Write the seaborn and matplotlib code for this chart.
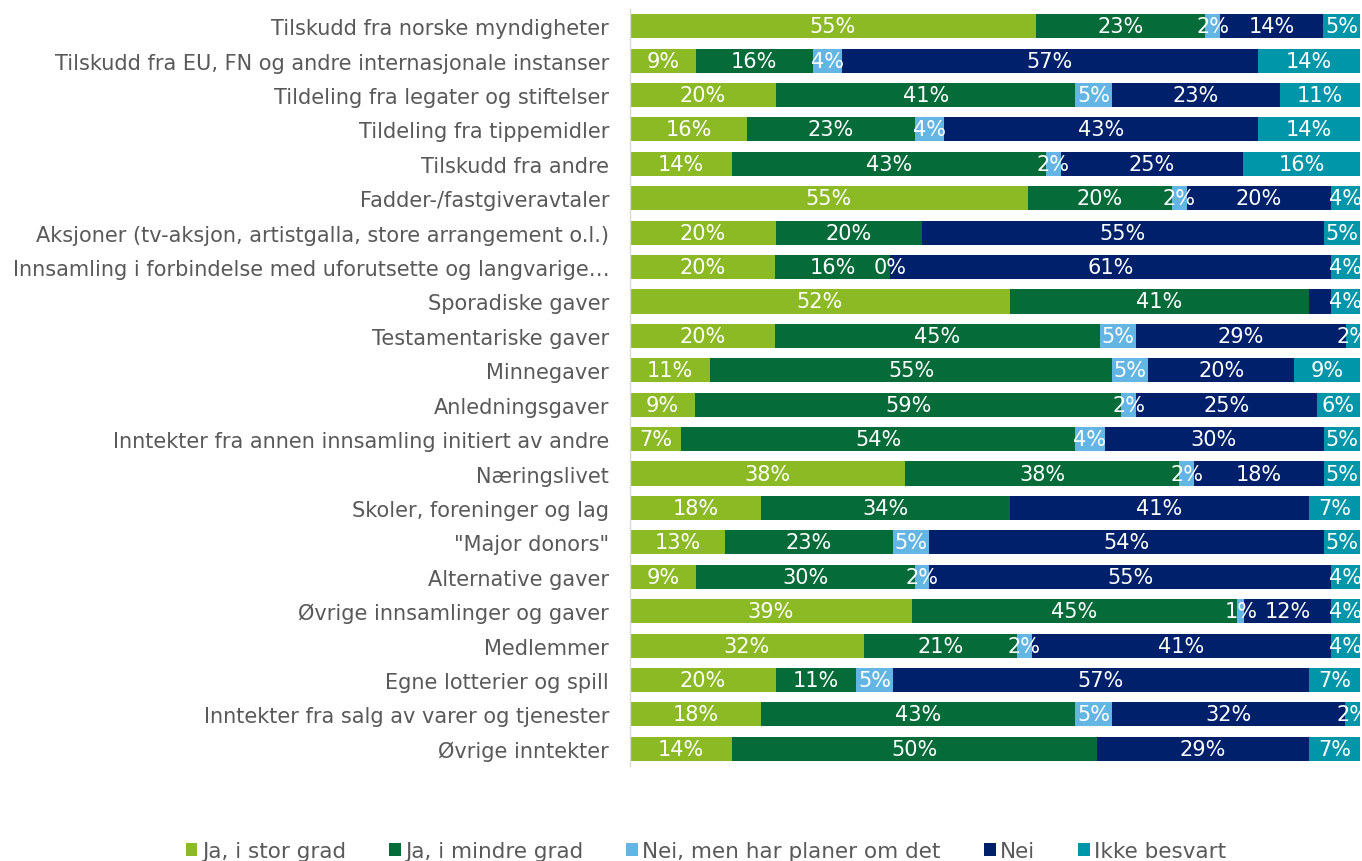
import numpy as np
import pandas as pd
import matplotlib
matplotlib.use("Agg")
import matplotlib.pyplot as plt
from matplotlib.patches import Patch
import seaborn as sns

categories = [
    "Tilskudd fra norske myndigheter",
    "Tilskudd fra EU, FN og andre internasjonale instanser",
    "Tildeling fra legater og stiftelser",
    "Tildeling fra tippemidler",
    "Tilskudd fra andre",
    "Fadder-/fastgiveravtaler",
    "Aksjoner (tv-aksjon, artistgalla, store arrangement o.l.)",
    "Innsamling i forbindelse med uforutsette og langvarige…",
    "Sporadiske gaver",
    "Testamentariske gaver",
    "Minnegaver",
    "Anledningsgaver",
    "Inntekter fra annen innsamling initiert av andre",
    "Næringslivet",
    "Skoler, foreninger og lag",
    "\"Major donors\"",
    "Alternative gaver",
    "Øvrige innsamlinger og gaver",
    "Medlemmer",
    "Egne lotterier og spill",
    "Inntekter fra salg av varer og tjenester",
    "Øvrige inntekter",
]

series_names = ["Ja, i stor grad", "Ja, i mindre grad", "Nei, men har planer om det",
                "Nei", "Ikke besvart"]

nan = np.nan
ja_stor = [55, 9, 20, 16, 14, 55, 20, 20, 52, 20, 11, 9, 7, 38, 18, 13, 9, 39, 32, 20, 18, 14]
ja_mindre = [23, 16, 41, 23, 43, 20, 20, 16, 41, 45, 55, 59, 54, 38, 34, 23, 30, 45, 21, 11, 43, 50]
nei_planer = [2, 4, 5, 4, 2, 2, nan, 0, nan, 5, 5, 2, 4, 2, nan, 5, 2, 1, 2, 5, 5, nan]
nei = [14, 57, 23, 43, 25, 20, 55, 61, 3, 29, 20, 25, 30, 18, 41, 54, 55, 12, 41, 57, 32, 29]
ikke_besvart = [5, 14, 11, 14, 16, 4, 5, 4, 4, 2, 9, 6, 5, 5, 7, 5, 4, 4, 4, 7, 2, 7]

# segments whose value label is left off the bar (category index, series index)
unlabelled = {(8, 3)}

colors = ["#8BBA25", "#056B39", "#63B6E4", "#00206B", "#0096A9"]
label_color = "#595959"

df = pd.DataFrame(
    {name: vals for name, vals in zip(series_names,
                                      [ja_stor, ja_mindre, nei_planer, nei, ikke_besvart])},
    index=categories,
)
values = df.fillna(0.0)
shares = values.div(values.sum(axis=1), axis=0)
cum = shares.cumsum(axis=1)

sns.set_theme(style="white")
plt.rcParams["font.family"] = ["DejaVu Sans"]

fig = plt.figure(figsize=(13.62, 8.62), dpi=100)
ax = fig.add_axes([630 / 1362, 95 / 862, 730 / 1362, 757 / 862])

# stacked bars: draw cumulative totals from the outermost segment inwards
for j in range(len(series_names) - 1, -1, -1):
    plot_df = pd.DataFrame({"x": cum.iloc[:, j].values, "cat": categories})
    sns.barplot(data=plot_df, x="x", y="cat", orient="h", color=colors[j],
                width=0.7, saturation=1, ax=ax, order=categories,
                linewidth=0)

for i, cat in enumerate(categories):
    for j, name in enumerate(series_names):
        v = df.loc[cat, name]
        if pd.isna(v) or (i, j) in unlabelled:
            continue
        left = cum.iloc[i, j] - shares.iloc[i, j]
        center = left + shares.iloc[i, j] / 2
        ax.text(center, i, f"{int(v)}%", ha="center", va="center",
                color="white", fontsize=15, clip_on=False)

ax.set_xlim(0, 1)
ax.set_ylim(len(categories) - 0.5, -0.5)
ax.set_xlabel("")
ax.set_ylabel("")
ax.set_xticks([])
ax.tick_params(axis="y", length=0, pad=15, labelsize=15, labelcolor=label_color)
for side in ["top", "right", "bottom"]:
    ax.spines[side].set_visible(False)
ax.spines["left"].set_color("#D9D9D9")
ax.spines["left"].set_linewidth(1)

handles = [Patch(facecolor=c, edgecolor="none") for c in colors]
fig.legend(handles, series_names, loc="center", bbox_to_anchor=(706 / 1362, 10 / 862),
           ncol=5, frameon=False, fontsize=15.5, labelcolor=label_color,
           handlelength=0.55, handleheight=0.55, handletextpad=0.2, columnspacing=2.0)

fig.savefig("out.png", dpi=100)
